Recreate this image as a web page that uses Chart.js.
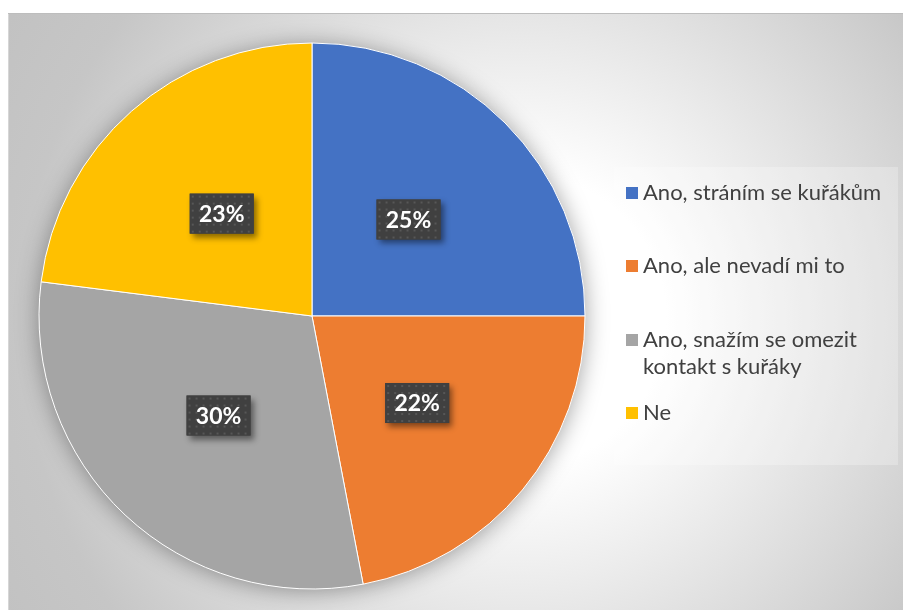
<!DOCTYPE html>
<html lang="cs">
<head>
<meta charset="utf-8">
<title>Vadí vám kouření?</title>
<script src="https://cdn.jsdelivr.net/npm/chart.js@4.4.1/dist/chart.umd.min.js"></script>
<style>
  html, body { margin: 0; padding: 0; background: #fff; }
  body { width: 903px; height: 610px; position: relative; overflow: hidden; font-family: Lato, "Open Sans", sans-serif; }
  #frame {
    position: absolute; left: 8px; top: 13px; width: 895px; height: 597px;
    background: radial-gradient(circle at 512px 307px, #ffffff 0px, #ffffff 146px, #c6c6c6 500px, #c0c0c0 640px);
    box-shadow: inset 0 1px 0 #bdbdbd, inset 1px 0 0 #d6d6d6;
  }
  #pie { position: absolute; left: 0; top: 0; }
  #legend {
    position: absolute; left: 606px; top: 154px; width: 284px; height: 298px;
    margin: 0; padding: 0; list-style: none;
    background: rgba(255, 255, 255, 0.25);
  }
  #legend li { position: relative; height: 73.5px; }
  #legend li:first-child { margin-top: 10.5px; }
  #legend .swatch { position: absolute; left: 12px; top: 9px; width: 12px; height: 12px; }
  #legend .text {
    position: absolute; left: 29px; top: 0; width: 254px;
    font-size: 22px; line-height: 27px; color: #404040;
  }
</style>
</head>
<body>
<div id="frame">
  <canvas id="pie" width="895" height="597"></canvas>
  <ul id="legend"></ul>
</div>
<script>
const labels = [
  "Ano, stráním se kuřákům",
  "Ano, ale nevadí mi to",
  "Ano, snažím se omezit kontakt s kuřáky",
  "Ne",
];
const values = [25, 22, 30, 23];
const colors = ["#4472C4", "#ED7D31", "#A5A5A5", "#FFC000"];

// small dotted tile used as the fill of the percentage boxes
const tile = document.createElement("canvas");
tile.width = 7;
tile.height = 7;
const tctx = tile.getContext("2d");
tctx.fillStyle = "#404040";
tctx.fillRect(0, 0, 7, 7);
tctx.fillStyle = "#575757";
tctx.fillRect(2, 2, 2, 2);

// soft shadow under the whole pie
const pieShadow = {
  id: "pieShadow",
  beforeDatasetsDraw(chart) {
    const arc = chart.getDatasetMeta(0).data[0];
    if (!arc) return;
    const ctx = chart.ctx;
    ctx.save();
    ctx.shadowColor = "rgba(0, 0, 0, 0.4)";
    ctx.shadowBlur = 24;
    ctx.shadowOffsetY = 2;
    ctx.fillStyle = "#bbbbbb";
    ctx.beginPath();
    ctx.arc(arc.x, arc.y, arc.outerRadius - 1, 0, Math.PI * 2);
    ctx.fill();
    ctx.restore();
  },
};

// percentage boxes in the middle of each slice
const valueBoxes = {
  id: "valueBoxes",
  afterDatasetsDraw(chart) {
    const ctx = chart.ctx;
    const pattern = ctx.createPattern(tile, "repeat");
    chart.getDatasetMeta(0).data.forEach((arc, i) => {
      const { x, y } = arc.tooltipPosition();
      const w = 64, h = 40;
      ctx.save();
      ctx.shadowColor = "rgba(0, 0, 0, 0.45)";
      ctx.shadowBlur = 6;
      ctx.shadowOffsetX = 3;
      ctx.shadowOffsetY = 4;
      ctx.fillStyle = "#404040";
      ctx.fillRect(x - w / 2, y - h / 2, w, h);
      ctx.restore();
      ctx.save();
      ctx.fillStyle = pattern;
      ctx.translate(x - w / 2, y - h / 2);
      ctx.fillRect(0, 0, w, h);
      ctx.restore();
      ctx.save();
      ctx.fillStyle = "#ffffff";
      ctx.font = "bold 23px Lato, 'Open Sans', sans-serif";
      ctx.textAlign = "center";
      ctx.textBaseline = "middle";
      ctx.fillText(values[i] + "%", x, y + 1);
      ctx.restore();
    });
  },
};

const chart = new Chart(document.getElementById("pie"), {
  type: "pie",
  data: {
    labels: labels,
    datasets: [
      {
        data: values,
        backgroundColor: colors,
        borderColor: "#ffffff",
        borderWidth: 1,
        hoverOffset: 0,
      },
    ],
  },
  options: {
    responsive: false,
    animation: false,
    events: [],
    layout: {
      padding: { left: 30.5, top: 29.5, right: 317.5, bottom: 20.5 },
    },
    plugins: {
      legend: { display: false },
      tooltip: { enabled: false },
    },
  },
  plugins: [pieShadow, valueBoxes],
});

// html legend built from the chart's own legend items
const legendEl = document.getElementById("legend");
chart.options.plugins.legend.labels.generateLabels(chart).forEach((item) => {
  const li = document.createElement("li");
  const box = document.createElement("span");
  box.className = "swatch";
  box.style.background = item.fillStyle;
  const txt = document.createElement("span");
  txt.className = "text";
  txt.textContent = item.text;
  li.appendChild(box);
  li.appendChild(txt);
  legendEl.appendChild(li);
});
</script>
</body>
</html>
